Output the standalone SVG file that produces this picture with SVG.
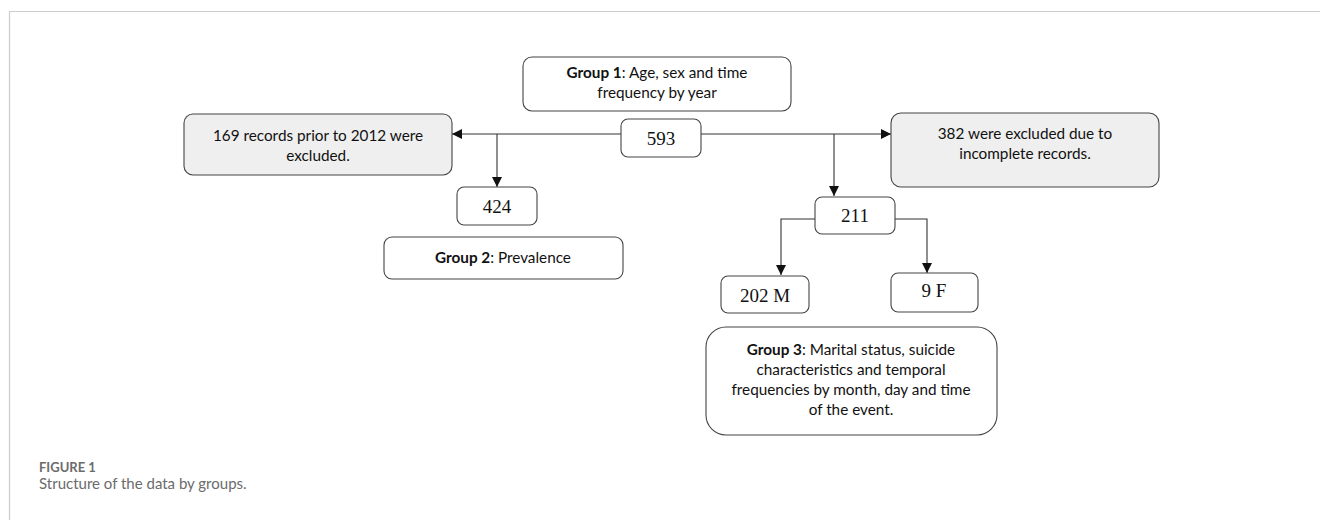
<svg xmlns="http://www.w3.org/2000/svg" width="1320" height="520" viewBox="0 0 1320 520">
<defs>
<marker id="ah" viewBox="0 0 10 10" refX="10" refY="5" markerWidth="10" markerHeight="10" markerUnits="userSpaceOnUse" orient="auto">
<path d="M0,0 L10,5 L0,10 z" fill="#111"/>
</marker>
<style>
.box{fill:#fff;stroke:#444;stroke-width:1.1}
.gbox{fill:#efefef;stroke:#444;stroke-width:1.1}
.t{font-family:Lato,"Liberation Sans",sans-serif;font-size:15.3px;fill:#111;text-anchor:middle}
.n{font-family:"Liberation Serif",serif;font-size:19px;fill:#111;text-anchor:middle}
.c{fill:none;stroke:#333;stroke-width:1.1}
</style>
</defs>
<rect width="1320" height="520" fill="#fff"/>
<path d="M9.5,520 V11.5 H1320" fill="none" stroke="#cccccc" stroke-width="1.2"/>
<g id="connectors">
<path class="c" d="M621,134 H452" marker-end="url(#ah)"/>
<path class="c" d="M497,134 V187" marker-end="url(#ah)"/>
<path class="c" d="M701,134 H891" marker-end="url(#ah)"/>
<path class="c" d="M834,134 V196" marker-end="url(#ah)"/>
<path class="c" d="M815,219 H781 V275" marker-end="url(#ah)"/>
<path class="c" d="M895,219 H927 V273" marker-end="url(#ah)"/>
</g>
<g id="group1">
<rect class="box" x="523" y="57" width="268" height="54" rx="9"/>
<text class="t" x="657" y="78"><tspan font-weight="bold">Group 1</tspan>: Age, sex and time</text>
<text class="t" x="657" y="98">frequency by year</text>
</g>
<g id="n593">
<rect class="box" x="621" y="119" width="80" height="38" rx="7"/>
<text class="n" x="661" y="145">593</text>
</g>
<g id="excl169">
<rect class="gbox" x="184" y="114" width="268" height="61" rx="9"/>
<text class="t" x="318" y="141">169 records prior to 2012 were</text>
<text class="t" x="318" y="161">excluded.</text>
</g>
<g id="excl382">
<rect class="gbox" x="891" y="113" width="268" height="74" rx="10"/>
<text class="t" x="1025" y="139">382 were excluded due to</text>
<text class="t" x="1025" y="159">incomplete records.</text>
</g>
<g id="n424">
<rect class="box" x="457" y="187" width="80" height="38" rx="7"/>
<text class="n" x="497" y="213">424</text>
</g>
<g id="group2">
<rect class="box" x="384" y="237" width="239" height="42" rx="8"/>
<text class="t" x="503" y="263"><tspan font-weight="bold">Group 2</tspan>: Prevalence</text>
</g>
<g id="n211">
<rect class="box" x="815" y="197" width="80" height="37" rx="7"/>
<text class="n" x="855" y="222">211</text>
</g>
<g id="n202">
<rect class="box" x="721" y="276" width="88" height="37" rx="7"/>
<text class="n" x="765" y="302">202 M</text>
</g>
<g id="n9">
<rect class="box" x="891" y="273" width="87" height="39" rx="7"/>
<text class="n" x="934" y="297">9 F</text>
</g>
<g id="group3">
<rect class="box" x="706" y="327" width="291" height="108" rx="20"/>
<text class="t" x="851" y="355"><tspan font-weight="bold">Group 3</tspan>: Marital status, suicide</text>
<text class="t" x="851" y="375">characteristics and temporal</text>
<text class="t" x="851" y="395">frequencies by month, day and time</text>
<text class="t" x="851" y="415">of the event.</text>
</g>
<g id="caption">
<text x="39" y="472" font-family="Lato,'Open Sans',sans-serif" font-size="13px" font-weight="bold" fill="#6b6b6b">FIGURE 1</text>
<text x="39" y="489" font-family="Lato,'Open Sans',sans-serif" font-size="15px" fill="#6b6b6b">Structure of the data by groups.</text>
</g>
</svg>
